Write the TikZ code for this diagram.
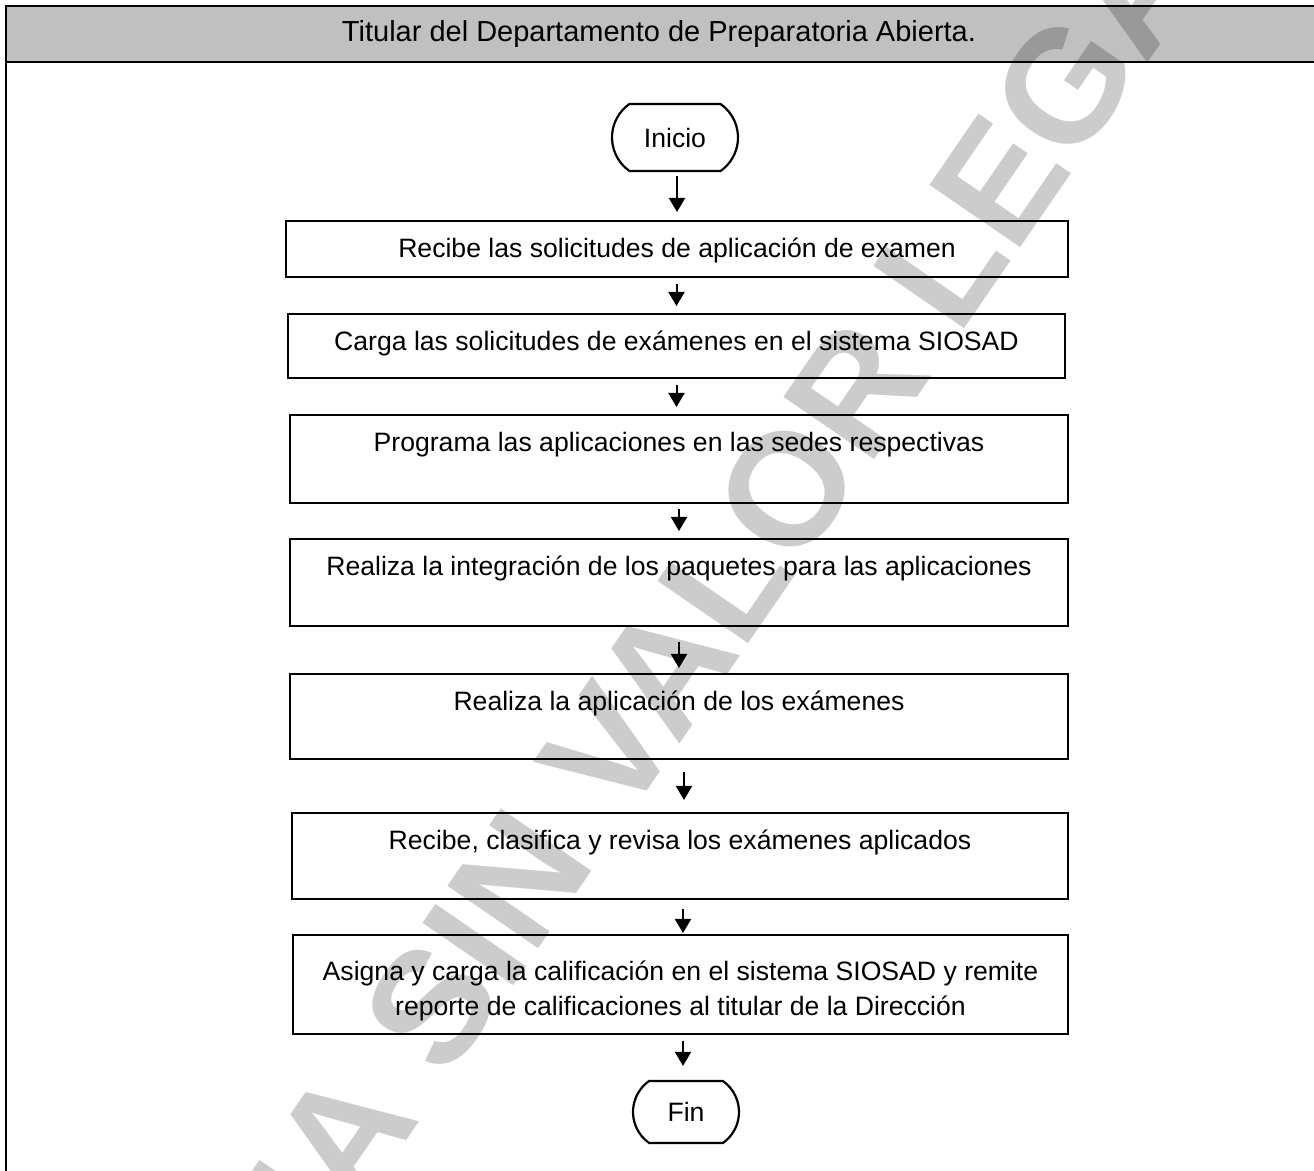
\documentclass[tikz,border=0pt]{standalone}
\usepackage{fontspec}
\setmainfont{Liberation Sans}
\usetikzlibrary{arrows.meta,shapes.misc}
\definecolor{cabecera}{RGB}{192,192,192}

\begin{document}
\begin{tikzpicture}[x=0.5pt,y=-0.5pt,>={Triangle[width=8pt,length=7pt]},
	paso/.style={draw,line width=1.1pt,inner sep=0pt,text height=18pt,align=center,anchor=north,font=\fontsize{13.3}{17.5}\selectfont},
	terminal/.style={draw,line width=1.1pt,rounded rectangle,rounded rectangle arc length=110,inner sep=0pt,font=\fontsize{13.3}{16}\selectfont},
	flecha/.style={->,line width=1pt}]
	
	% the page
	\useasboundingbox (0,0) rectangle (1314,1171);
	\clip (0,0) rectangle (1314,1171);
	
	% header and left rule
	\filldraw[line width=1.4pt,fill=cabecera] (6,6) rectangle (1330,62);
	\draw[line width=1.4pt] (6,62) -- (6,1200);
	\node[font=\fontsize{14.5}{17}\selectfont] (titulo) at (659,34) {Titular del Departamento de Preparatoria Abierta.};
	
	% start / end
	\node[terminal,minimum width=63pt,minimum height=33.5pt] (inicio) at (675,137.5) {Inicio};
	\node[terminal,minimum width=53pt,minimum height=31pt] (fin) at (686,1112) {Fin};
	
	% the steps
	\node[paso,minimum width=391pt,text depth=10pt] (b1) at (677,220) {Recibe las solicitudes de aplicación de examen};
	\node[paso,minimum width=388.5pt,text depth=14pt] (b2) at (676.5,313) {Carga las solicitudes de exámenes en el sistema SIOSAD};
	\node[paso,minimum width=389pt,text depth=26pt] (b3) at (679,414) {Programa las aplicaciones en las sedes respectivas};
	\node[paso,minimum width=389pt,text depth=25.5pt] (b4) at (679,538) {Realiza la integración de los paquetes para las aplicaciones};
	\node[paso,minimum width=389pt,text depth=24.5pt] (b5) at (679,673) {Realiza la aplicación de los exámenes};
	\node[paso,minimum width=388pt,text depth=25pt] (b6) at (680,812) {Recibe, clasifica y revisa los exámenes aplicados};
	% two lines: baseline is the last one
	\node[paso,minimum width=387.5pt,text height=40pt,text depth=9.5pt] (b7) at (680.5,934) {Asigna y carga la calificación en el sistema SIOSAD y remite\\reporte de calificaciones al titular de la Dirección};
	
	% the arrows
	\draw[flecha,shorten <=2pt,shorten >=4pt] (b1.north |- inicio.south) -- (b1.north);
	\draw[flecha,shorten <=3pt,shorten >=3.5pt] (b2.north |- b1.south) -- (b2.north);
	\draw[flecha,shorten <=3pt,shorten >=3.5pt] (b2.south) -- (b2.south |- b3.north);
	\draw[flecha,shorten <=2.5pt,shorten >=3.5pt] (b4.north |- b3.south) -- (b4.north);
	\draw[flecha,shorten <=7.5pt,shorten >=2.5pt] (b5.north |- b4.south) -- (b5.north);
	\draw[flecha,shorten <=6pt,shorten >=6pt] ([xshift=2pt]b6.north |- b5.south) -- ([xshift=2pt]b6.north);
	\draw[flecha,shorten <=4.5pt,shorten >=0.5pt] ([xshift=1.25pt]b7.north |- b6.south) -- ([xshift=1.25pt]b7.north);
	\draw[flecha,shorten <=3pt,shorten >=7pt] ([xshift=1.25pt]b7.south) -- ([xshift=1.25pt]b7.south |- fin.north);
	
	% watermark on top
	\node[rotate=55.5,text=black,text opacity=0.2,font=\fontsize{80}{80}\selectfont\bfseries] (marca) at (655,682) {COPIA SIN VALOR LEGAL};
\end{tikzpicture}
\end{document}
